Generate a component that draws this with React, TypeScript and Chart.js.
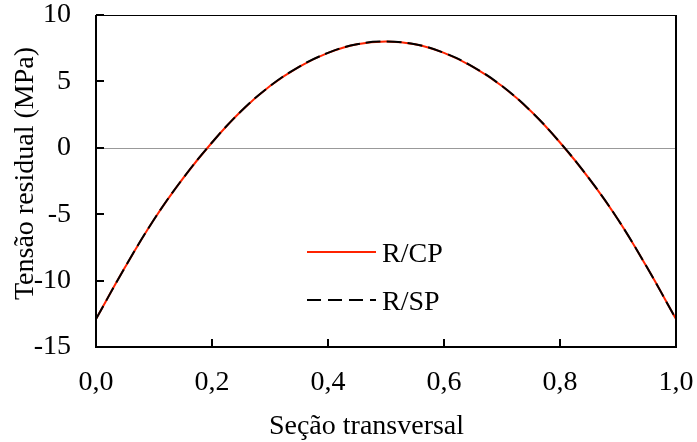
import React, { useEffect, useRef } from "react";
import { Chart, registerables } from "chart.js";

Chart.register(...registerables);

const xValues = [0, 0.05, 0.1, 0.15, 0.2, 0.25, 0.3, 0.35, 0.4, 0.45, 0.5, 0.55, 0.6, 0.65, 0.7, 0.75, 0.8, 0.85, 0.9, 0.95, 1.0];
const rcpValues = [-12.9, -9.0, -5.4, -2.3, 0.4, 2.75, 4.65, 6.1, 7.15, 7.8, 8.0, 7.8, 7.15, 6.1, 4.65, 2.75, 0.4, -2.3, -5.4, -9.0, -12.9];
const rspValues = [-12.9, -9.0, -5.4, -2.3, 0.4, 2.75, 4.65, 6.1, 7.15, 7.8, 8.0, 7.8, 7.15, 6.1, 4.65, 2.75, 0.4, -2.3, -5.4, -9.0, -12.9];
const xTickValues = [0, 0.2, 0.4, 0.6, 0.8, 1.0];
const yTickValues = [-15, -10, -5, 0, 5, 10];
const seriesNames = ["R/CP", "R/SP"];
const xTitle = "Seção transversal";
const yTitle = "Tensão residual (MPa)";

const FONT = "Liberation Serif, Times New Roman, serif";
const FS = 28;
const RED = "rgb(255,35,0)";

const framePlugin = {
  id: "frameAndLegend",
  beforeDatasetsDraw(chart: any) {
    const { ctx, chartArea, scales } = chart;
    const y0 = scales.y.getPixelForValue(0);
    ctx.save();
    ctx.strokeStyle = "#999999";
    ctx.lineWidth = 1;
    ctx.beginPath();
    ctx.moveTo(chartArea.left, Math.round(y0) + 0.5);
    ctx.lineTo(chartArea.right, Math.round(y0) + 0.5);
    ctx.stroke();
    ctx.restore();
  },
  afterDatasetsDraw(chart: any) {
    const { ctx, chartArea, scales } = chart;
    const { left, right, top, bottom } = chartArea;
    ctx.save();
    ctx.strokeStyle = "#000";
    ctx.lineWidth = 1;
    ctx.beginPath();
    ctx.moveTo(left, top + 0.5);
    ctx.lineTo(right, top + 0.5);
    ctx.stroke();
    ctx.lineWidth = 2;
    ctx.beginPath();
    ctx.moveTo(left, top);
    ctx.lineTo(left, bottom);
    ctx.lineTo(right, bottom);
    ctx.lineTo(right, top);
    ctx.stroke();
    const tl = 8;
    ctx.beginPath();
    for (const v of yTickValues) {
      const py = Math.round(scales.y.getPixelForValue(v));
      ctx.moveTo(left, py);
      ctx.lineTo(left + tl, py);
    }
    for (const v of xTickValues) {
      const px = Math.round(scales.x.getPixelForValue(v));
      ctx.moveTo(px, bottom);
      ctx.lineTo(px, bottom - tl);
    }
    ctx.stroke();

    // legend
    const lx1 = left + 211;
    const lx2 = left + 280;
    const ly1 = top + 237;
    const ly2 = top + 285;
    ctx.lineWidth = 2;
    ctx.strokeStyle = RED;
    ctx.setLineDash([]);
    ctx.beginPath();
    ctx.moveTo(lx1, ly1);
    ctx.lineTo(lx2, ly1);
    ctx.stroke();
    ctx.strokeStyle = "#000";
    ctx.setLineDash([14, 7]);
    ctx.beginPath();
    ctx.moveTo(lx1, ly2);
    ctx.lineTo(lx2, ly2);
    ctx.stroke();
    ctx.setLineDash([]);
    ctx.fillStyle = "#000";
    ctx.font = `${FS}px ${FONT}`;
    ctx.textBaseline = "middle";
    ctx.textAlign = "left";
    ctx.fillText(seriesNames[0], lx2 + 6, ly1 + 3);
    ctx.fillText(seriesNames[1], lx2 + 6, ly2 + 3);

    // axis titles
    ctx.textBaseline = "alphabetic";
    ctx.textAlign = "center";
    ctx.fillText(xTitle, 366.5, 434);
    ctx.translate(33, 173.5);
    ctx.rotate(-Math.PI / 2);
    ctx.fillText(yTitle, 0, 0);
    ctx.restore();
  },
};

export default function App() {
  const ref = useRef<HTMLCanvasElement | null>(null);
  useEffect(() => {
    if (!ref.current) return;
    const chart = new Chart(ref.current, {
      type: "line",
      data: {
        datasets: [
          {
            label: seriesNames[0],
            data: xValues.map((x, i) => ({ x, y: rcpValues[i] })),
            borderColor: RED,
            borderWidth: 2,
            pointRadius: 0,
            tension: 0.4,
            fill: false,
            order: 2,
          },
          {
            label: seriesNames[1],
            data: xValues.map((x, i) => ({ x, y: rspValues[i] })),
            borderColor: "#000",
            borderWidth: 2,
            borderDash: [15, 6],
            pointRadius: 0,
            tension: 0.4,
            fill: false,
            order: 1,
          },
        ],
      },
      options: {
        animation: false,
        responsive: false,
        layout: { padding: { top: 15, right: 21, left: 0, bottom: 0 } },
        plugins: { legend: { display: false }, tooltip: { enabled: false } },
        scales: {
          x: {
            type: "linear",
            min: 0,
            max: 1,
            afterFit: (s: any) => {
              s.height = 95;
              s.paddingLeft = 0;
              s.paddingRight = 0;
            },
            afterBuildTicks: (s: any) => { s.ticks = xTickValues.map((v) => ({ value: v })); },
            grid: { display: false, drawTicks: false },
            border: { display: false },
            ticks: {
              padding: 19,
              color: "#000",
              font: { family: FONT, size: FS },
              callback: (v: any) => Number(v).toFixed(1).replace(".", ","),
            },
            title: { display: false, text: xTitle },
          },
          y: {
            type: "linear",
            min: -15,
            max: 10,
            afterFit: (s: any) => {
              s.width = 96;
              s.paddingTop = 0;
              s.paddingBottom = 0;
            },
            afterBuildTicks: (s: any) => { s.ticks = yTickValues.map((v) => ({ value: v })); },
            grid: { display: false, drawTicks: false },
            border: { display: false },
            ticks: {
              padding: 25,
              color: "#000",
              font: { family: FONT, size: FS, lineHeight: 1 },
              callback: (v: any) => String(v),
            },
            title: { display: false, text: yTitle },
          },
        },
      },
      plugins: [framePlugin],
    });
    return () => chart.destroy();
  }, []);
  return (
    <div style={{ position: "absolute", left: 0, top: 0, width: 697, height: 442, background: "#fff" }}>
      <canvas ref={ref} width={697} height={442} />
    </div>
  );
}
